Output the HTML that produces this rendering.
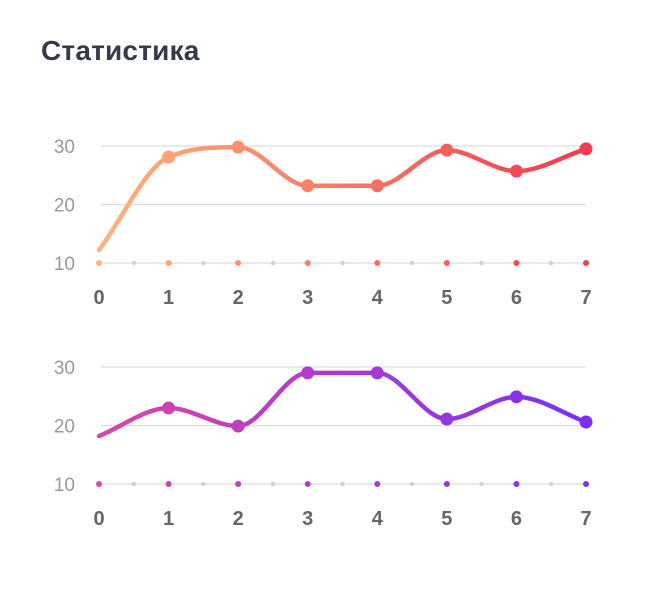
<!DOCTYPE html>
<html><head><meta charset="utf-8"><style>
body{margin:0;background:#fff;width:658px;height:602px;overflow:hidden;font-family:"Liberation Sans",sans-serif}
h1{position:absolute;left:41px;top:35px;margin:0;font-size:28px;font-weight:bold;color:#343a4a;letter-spacing:0.2px}
</style></head><body>
<h1>Статистика</h1>
<svg id="s" width="658" height="602" style="position:absolute;left:0;top:0">
<defs>
<linearGradient id="g1" gradientUnits="userSpaceOnUse" x1="99" y1="0" x2="586" y2="0"><stop offset="0" stop-color="#ffb47c"/><stop offset="1" stop-color="#f03b50"/></linearGradient>
<linearGradient id="g2" gradientUnits="userSpaceOnUse" x1="99" y1="0" x2="586" y2="0"><stop offset="0" stop-color="#da47a6"/><stop offset="1" stop-color="#7a30f6"/></linearGradient>
</defs>
</svg>
<script>
const categories=[0,1,2,3,4,5,6,7];
const series1=[12.2,28.1,29.8,23.2,23.2,29.3,25.7,29.5];
const series2=[18.2,23,19.9,29,29,21.1,24.9,20.6];
const yTicks=[10,20,30];
const svg=document.getElementById('s');
const NS='http://www.w3.org/2000/svg';
function mk(t,a,p){const e=document.createElementNS(NS,t);for(const k in a)e.setAttribute(k,a[k]);(p||svg).appendChild(e);return e;}
const xS=i=>99+i*(586-99)/7;
function lerp(c1,c2,t){const a=parseInt(c1.slice(1),16),b=parseInt(c2.slice(1),16);const r=[16,8,0].map(s=>Math.round(((a>>s)&255)*(1-t)+((b>>s)&255)*t));return 'rgb('+r.join(',')+')';}
function monotone(pts){const n=pts.length,d=[],m=[];for(let i=0;i<n-1;i++)d.push((pts[i+1][1]-pts[i][1])/(pts[i+1][0]-pts[i][0]));
for(let i=0;i<n;i++){if(i==0)m.push(d[0]);else if(i==n-1)m.push(d[n-2]);else m.push(d[i-1]*d[i]<=0?0:(d[i-1]+d[i])/2);}
for(let i=0;i<n-1;i++){if(d[i]==0){m[i]=0;m[i+1]=0;continue;}const a=m[i]/d[i],b=m[i+1]/d[i],s=a*a+b*b;if(s>9){const t=3/Math.sqrt(s);m[i]=t*a*d[i];m[i+1]=t*b*d[i];}}
let p='M'+pts[0][0]+','+pts[0][1];for(let i=0;i<n-1;i++){const h=(pts[i+1][0]-pts[i][0])/3;p+=' C'+(pts[i][0]+h)+','+(pts[i][1]+m[i]*h)+' '+(pts[i+1][0]-h)+','+(pts[i+1][1]-m[i+1]*h)+' '+pts[i+1][0]+','+pts[i+1][1];}return p;}
function chart(vals,y30,y10,grad,c1,c2,name){
 const yS=v=>y10-(v-10)*(y10-y30)/20;
 yTicks.forEach(t=>{
  const l=mk('line',{x1:101,x2:586,y1:yS(t),y2:yS(t),stroke:'#dcdcdc','stroke-width':1.3});
  
  
  const tx=mk('text',{x:75,y:yS(t)+7,'text-anchor':'end','font-size':19,fill:'#999','font-weight':'300'});
  tx.textContent=t;
  
  
 });
 categories.forEach((c,i)=>{
  const col=lerp(c1,c2,i/7);
  const d=mk('circle',{cx:xS(i),cy:y10,r:3,fill:col});
  
  
  if(i<7){const g=mk('circle',{cx:(xS(i)+xS(i+1))/2,cy:y10,r:2.2,fill:'#d0d0d0'});
   
   }
  const tx=mk('text',{x:xS(i),y:y10+41,'text-anchor':'middle','font-size':20,'font-weight':'bold',fill:'#666'});
  tx.textContent=c;
  
  
 });
 const pts=vals.map((v,i)=>[xS(i),yS(v)]);
 const path=mk('path',{d:monotone(pts),fill:'none',stroke:'url(#'+grad+')','stroke-width':4.5,'stroke-linecap':'round'});
 
 
 vals.forEach((v,i)=>{if(i==0)return;
  const c=mk('circle',{cx:xS(i),cy:yS(v),r:6.5,fill:lerp(c1,c2,i/7)});
  
  
 });
}
chart(series1,146,263,'g1','#ffb47c','#f03b50','top-chart');
chart(series2,367,484,'g2','#da47a6','#7a30f6','bottom-chart');
</script>
</body></html>
